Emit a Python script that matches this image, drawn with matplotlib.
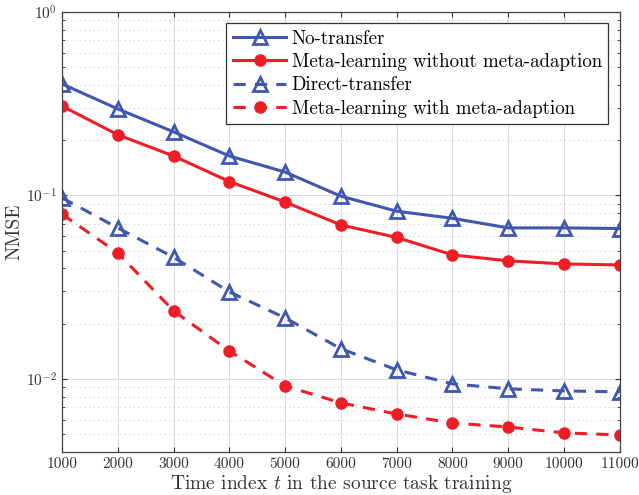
import numpy as np
import matplotlib
matplotlib.use("Agg")
import matplotlib.pyplot as plt

plt.rcParams['font.family'] = 'cmr10'
plt.rcParams['mathtext.fontset'] = 'cm'
plt.rcParams['axes.formatter.use_mathtext'] = True

t = [1000, 2000, 3000, 4000, 5000, 6000, 7000, 8000, 9000, 10000, 11000]
no_transfer = [0.405, 0.296, 0.222, 0.164, 0.134, 0.099, 0.082, 0.075, 0.0665, 0.0665, 0.066]
meta_no_adapt = [0.307, 0.214, 0.164, 0.119, 0.092, 0.069, 0.059, 0.0474, 0.044, 0.0423, 0.0418]
direct_transfer = [0.097, 0.0665, 0.046, 0.0298, 0.0215, 0.0146, 0.0112, 0.0094, 0.00883, 0.0086, 0.0085]
meta_adapt = [0.079, 0.0486, 0.0235, 0.0142, 0.00916, 0.0074, 0.00644, 0.00575, 0.00547, 0.00508, 0.00495]

blue = '#3f57b0'
red = '#ee1d26'

fig = plt.figure(figsize=(6.39, 4.95), dpi=100)
ax = fig.add_axes([0.097, 0.087, 0.873, 0.889])

ax.semilogy(t, no_transfer, '-', color=blue, lw=2.2, marker='^', ms=10,
            mfc='none', mec=blue, mew=2, label='No-transfer')
ax.semilogy(t, meta_no_adapt, '-', color=red, lw=2.2, marker='o', ms=8,
            mfc=red, mec=red, label='Meta-learning without meta-adaption')
ax.semilogy(t, direct_transfer, '--', color=blue, lw=2.2, marker='^', ms=10,
            mfc='none', mec=blue, mew=2, dashes=(4, 3), label='Direct-transfer')
ax.semilogy(t, meta_adapt, '--', color=red, lw=2.2, marker='o', ms=8,
            mfc=red, mec=red, dashes=(4, 3), label='Meta-learning with meta-adaption')

ax.set_xlim(1000, 11000)
ax.set_ylim(0.004, 1)
ax.set_xticks(t)
ax.set_xticklabels([str(v) for v in t])
ax.grid(True, which='major', color='#dcdcdc', lw=0.8, ls='-')
ax.grid(True, which='minor', axis='y', color='#d0d0d0', lw=0.8, ls=(0, (1, 3)))
ax.tick_params(which='both', direction='in', top=True, right=True, colors='#333333',
               labelcolor='#333333', labelsize=11)
for s in ax.spines.values():
    s.set_color('#444444')
    s.set_linewidth(0.9)
ax.set_xlabel(r'Time index $t$ in the source task training', fontsize=14, color='#333333', labelpad=2)
ax.set_ylabel('NMSE', fontsize=14, color='#333333', labelpad=2)

leg = ax.legend(loc='upper right', fontsize=13.6, fancybox=False, framealpha=1,
                edgecolor='#333333', handlelength=2.8, borderpad=0.35, labelspacing=0.28,
                handletextpad=0.3, borderaxespad=0.6)
leg.get_frame().set_linewidth(0.9)

fig.savefig('out.png', dpi=100)
